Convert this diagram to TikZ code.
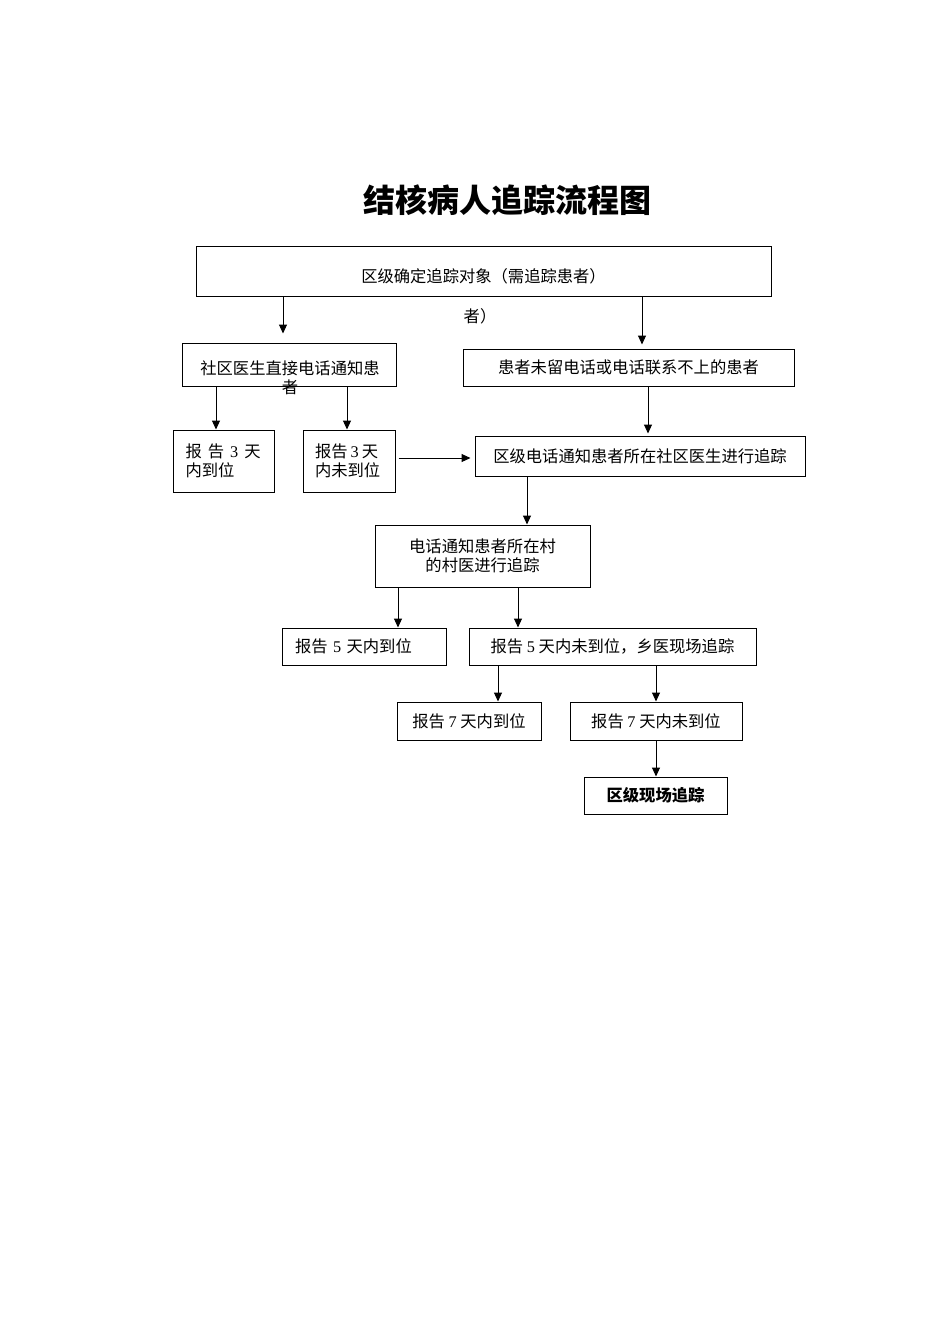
\documentclass[tikz,border=0pt]{standalone}
\usepackage{fontspec}
\setmainfont{Liberation Serif}
\newfontfamily\cjk{Noto Sans CJK SC}
\usetikzlibrary{arrows.meta}

\begin{document}
\begin{tikzpicture}[x=1pt, y=-1pt, every node/.style={font=\cjk\fontsize{16.3}{19}\selectfont, inner sep=0pt},
	box/.style={draw, line width=1pt},
	arr/.style={line width=1pt, -{Triangle[length=9pt, width=8pt]}}]
	\useasboundingbox (0,0) rectangle (950,1344);
	\node[font=\cjk\bfseries\fontsize{32}{38}\selectfont] (title) at (507,200) {结核病人追踪流程图};
	\node[box, minimum width=575, minimum height=50, text height=22pt, text depth=0pt] (A) at (483.5,271) {区级确定追踪对象（需追踪患者）};
	\node (Arest) at (480,316) {者）};
	\node[box, minimum width=214, minimum height=43] (B) at (289,364.5) {};
	\node[align=center] (Btext) at (290,377.5) {社区医生直接电话通知患\\者};
	\node[box, minimum width=331, minimum height=37] (C) at (628.5,367.5) {患者未留电话或电话联系不上的患者};
	\node[box, minimum width=101, minimum height=62, text width=76, align=left] (D) at (223.5,461) {报\hspace{6pt}告\hspace{6pt}\textrm{3}\hspace{6pt}天\\内到位};
	\node[box, minimum width=92, minimum height=62, text width=68, align=left] (E) at (349,461) {报告\hspace{3pt}\textrm{3}\hspace{3pt}天\\内未到位};
	\node[box, minimum width=330, minimum height=40] (F) at (640,456) {区级电话通知患者所在社区医生进行追踪};
	\node[box, minimum width=215, minimum height=62, align=center] (G) at (482.5,556) {电话通知患者所在村\\的村医进行追踪};
	\node[box, minimum width=164, minimum height=37, text width=138, align=left] (H) at (364,646.5) {报告 \textrm{5} 天内到位};
	\node[box, minimum width=287, minimum height=37] (I) at (612.5,646.5) {报告 \textrm{5} 天内未到位，乡医现场追踪};
	\node[box, minimum width=144, minimum height=38] (J) at (469,721) {报告 \textrm{7} 天内到位};
	\node[box, minimum width=172, minimum height=38] (K) at (656,721) {报告 \textrm{7} 天内未到位};
	\node[box, minimum width=143, minimum height=37, font=\cjk\bfseries\fontsize{16.3}{19}\selectfont] (L) at (655.5,795.5) {区级现场追踪};
	\draw[arr, shorten >=9pt] (A.south -| 283,0) -- (B.north -| 283,0);
	\draw[arr, shorten >=4pt] (A.south -| 642,0) -- (C.north -| 642,0);
	\draw[arr] (B.south -| 216,0) -- (D.north -| 216,0);
	\draw[arr] (B.south -| 347,0) -- (E.north -| 347,0);
	\draw[arr, shorten >=2pt] (C.south -| 648,0) -- (F.north -| 648,0);
	\draw[arr, shorten <=3pt, shorten >=4pt] (E.east |- 0,458) -- (F.west |- 0,458);
	\draw[arr] (F.south -| 527,0) -- (G.north -| 527,0);
	\draw[arr] (G.south -| 398,0) -- (H.north -| 398,0);
	\draw[arr] (G.south -| 518,0) -- (I.north -| 518,0);
	\draw[arr] (I.south -| 498,0) -- (J.north -| 498,0);
	\draw[arr] (I.south -| 656,0) -- (K.north -| 656,0);
	\draw[arr] (K.south) -- (L.north -| K.south);
\end{tikzpicture}
\end{document}
